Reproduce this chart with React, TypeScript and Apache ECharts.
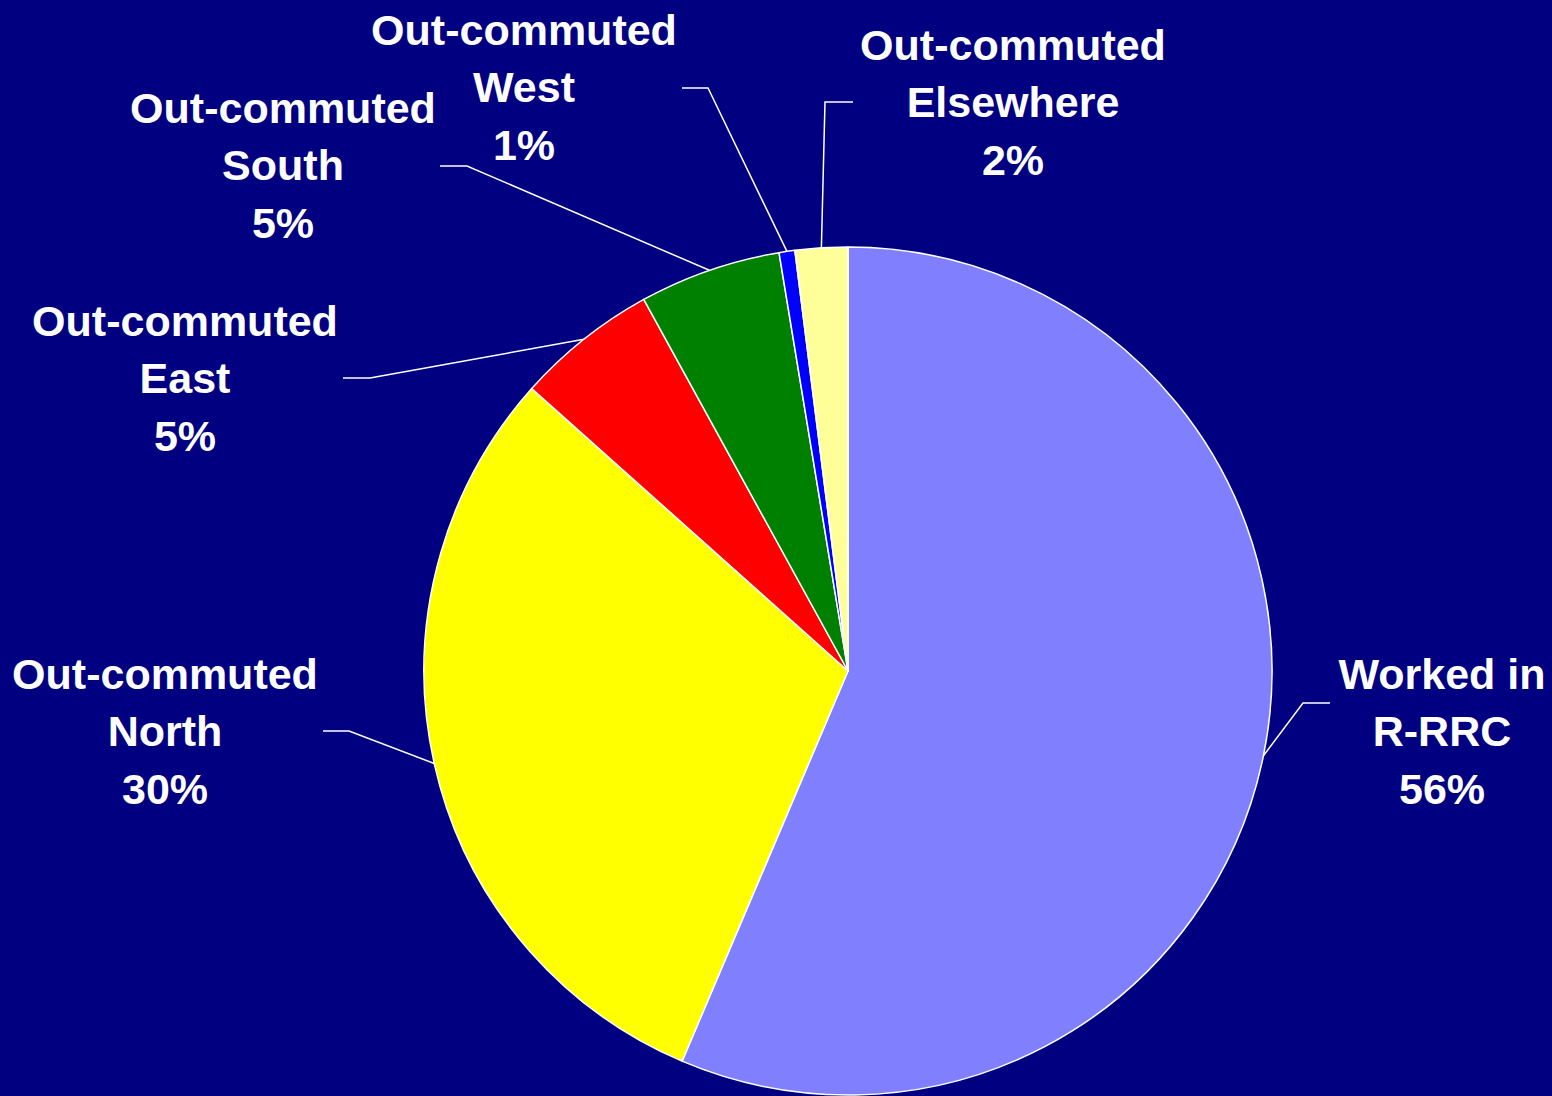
import React, { useEffect, useRef } from "react";
import * as echarts from "echarts";

const categories = [
  "Worked in\nR-RRC",
  "Out-commuted\nNorth",
  "Out-commuted\nEast",
  "Out-commuted\nSouth",
  "Out-commuted\nWest",
  "Out-commuted\nElsewhere",
];
const shares = [56.4, 30.2, 5.4, 5.4, 0.6, 2.0];
const sliceColors = ["#8080FF", "#FFFF00", "#FF0000", "#008000", "#0000FF", "#FFFF99"];

// label layout: label block center, leader elbow, leader end
const labelCenters = [
  [1442, 731],
  [165, 731],
  [185, 378],
  [283, 165],
  [524, 87],
  [1013, 102],
];
const leaderElbows = [
  [1303, 703],
  [349, 731],
  [370, 378],
  [467, 166],
  [708, 88],
  [825, 102],
];
const leaderEnds = [
  [1330, 703],
  [323, 731],
  [343, 378],
  [440, 166],
  [682, 88],
  [853, 102],
];

const CENTER = [848, 671];
const RADIUS = 424;

export default function App() {
  const ref = useRef<HTMLDivElement>(null);
  useEffect(() => {
    document.body.style.margin = "0";
    const chart = echarts.init(ref.current!, null, { renderer: "svg" });
    const data = categories.map((name, i) => ({
      name,
      value: shares[i],
      itemStyle: { color: sliceColors[i] },
    }));
    chart.setOption({
      animation: false,
      backgroundColor: "#000080",
      series: [
        {
          type: "pie",
          center: CENTER,
          radius: RADIUS,
          startAngle: 90,
          clockwise: true,
          avoidLabelOverlap: false,
          data,
          itemStyle: { borderColor: "#ffffff", borderWidth: 1.5 },
          label: {
            show: true,
            position: "outside",
            color: "#ffffff",
            fontFamily: "'Liberation Sans', Arial, sans-serif",
            fontWeight: "bold",
            fontSize: 43,
            lineHeight: 57.5,
            align: "center",
            formatter: (p: any) => `${p.name}\n${Math.round(p.percent)}%`,
          },
          labelLine: {
            show: true,
            lineStyle: { color: "#ffffff", width: 1.5 },
          },
          labelLayout: (params: any) => {
            const i = params.dataIndex;
            const start =
              params.labelLinePoints && params.labelLinePoints[0]
                ? params.labelLinePoints[0]
                : CENTER;
            return {
              x: labelCenters[i][0],
              y: labelCenters[i][1],
              align: "center",
              verticalAlign: "middle",
              labelLinePoints: [start, leaderElbows[i], leaderEnds[i]],
            };
          },
        },
      ],
    });
    return () => chart.dispose();
  }, []);
  return <div ref={ref} style={{ width: 1552, height: 1096 }} />;
}
